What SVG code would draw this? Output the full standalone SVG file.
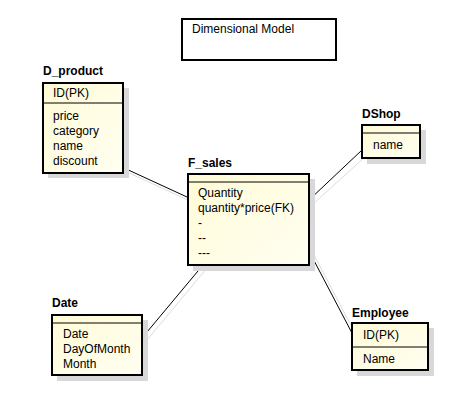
<svg xmlns="http://www.w3.org/2000/svg" width="464" height="416" viewBox="0 0 464 416">
<defs>
<linearGradient id="fill" x1="0" y1="0" x2="1" y2="1">
<stop offset="0" stop-color="#fffbd6"/>
<stop offset="1" stop-color="#fffff2"/>
</linearGradient>
</defs>
<style>
.box{fill:url(#fill);stroke:#000;stroke-width:2}
.sh{fill:#d8d8d8}
.sep{stroke:#000;stroke-width:1}
.t{font-family:"Liberation Sans",Arial,sans-serif;font-size:12px;fill:#000}
.b{font-family:"Liberation Sans",Arial,sans-serif;font-size:12px;font-weight:bold;fill:#000}
.ln{stroke:#000;stroke-width:1;fill:none}
.lns{stroke:#dcdcdc;stroke-width:1;fill:none}
</style>
<rect width="464" height="416" fill="#fff"/>
<g id="connectors">
<line class="lns" x1="127" y1="172" x2="190" y2="201"/>
<line class="ln" x1="124" y1="168" x2="187" y2="197"/>
<line class="lns" x1="313" y1="204" x2="366" y2="156"/>
<line class="ln" x1="309" y1="200" x2="362" y2="150"/>
<line class="lns" x1="207" y1="268" x2="147" y2="340"/>
<line class="ln" x1="203" y1="265" x2="142" y2="338"/>
<line class="lns" x1="313" y1="253" x2="357" y2="337"/>
<line class="ln" x1="309" y1="251" x2="353" y2="335"/>
</g>
<g id="title">
<rect x="182" y="19" width="154" height="41" fill="#fff" stroke="#000" stroke-width="2"/>
<text class="t" x="192" y="33">Dimensional Model</text>
</g>
<g id="D_product">
<text class="b" x="43" y="75">D_product</text>
<rect class="sh" x="48" y="88" width="81" height="90"/>
<rect class="box" x="43" y="83" width="80" height="90"/>
<line class="sep" x1="43" y1="103" x2="123" y2="103"/>
<text class="t" x="53" y="97">ID(PK)</text>
<text class="t" x="53" y="120">price</text>
<text class="t" x="53" y="135">category</text>
<text class="t" x="53" y="150">name</text>
<text class="t" x="53" y="165">discount</text>
</g>
<g id="F_sales">
<text class="b" x="188" y="167">F_sales</text>
<rect class="sh" x="193" y="179" width="122" height="92"/>
<rect class="box" x="188" y="174" width="121" height="91"/>
<line class="sep" x1="188" y1="182" x2="309" y2="182"/>
<text class="t" x="198" y="197">Quantity</text>
<text class="t" x="198" y="212">quantity*price(FK)</text>
<text class="t" x="198" y="227">-</text>
<text class="t" x="198" y="242">--</text>
<text class="t" x="198" y="257">---</text>
</g>
<g id="DShop">
<text class="b" x="362" y="118">DShop</text>
<rect class="sh" x="367" y="130" width="59" height="34"/>
<rect class="box" x="362" y="125" width="58" height="33"/>
<line class="sep" x1="362" y1="133" x2="420" y2="133"/>
<text class="t" x="373" y="149">name</text>
</g>
<g id="Employee">
<text class="b" x="352" y="317">Employee</text>
<rect class="sh" x="357" y="328" width="77" height="48"/>
<rect class="box" x="352" y="323" width="76" height="47"/>
<line class="sep" x1="352" y1="347" x2="428" y2="347"/>
<text class="t" x="363" y="339">ID(PK)</text>
<text class="t" x="363" y="363">Name</text>
</g>
<g id="Date">
<text class="b" x="52" y="307">Date</text>
<rect class="sh" x="57" y="320" width="91" height="61"/>
<rect class="box" x="52" y="315" width="90" height="60"/>
<line class="sep" x1="52" y1="323" x2="142" y2="323"/>
<text class="t" x="63" y="338">Date</text>
<text class="t" x="63" y="353">DayOfMonth</text>
<text class="t" x="63" y="368">Month</text>
</g>
</svg>
